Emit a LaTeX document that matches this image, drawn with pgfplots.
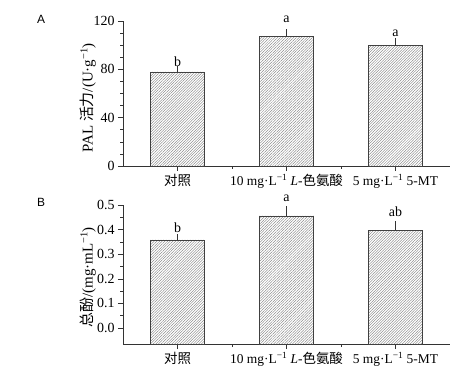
\documentclass[border=0pt]{standalone}
\usepackage{pgfplots}
\pgfplotsset{compat=1.18}
\usetikzlibrary{patterns.meta}
\usepackage{fontspec}
\setmainfont{Liberation Serif}
\newfontfamily\cjk{Noto Sans CJK SC}
\newfontfamily\sansA{Liberation Sans}
\begin{document}
\begin{tikzpicture}
\pgfplotsset{
 panel/.style={
  scale only axis, width=327bp, xmin=-0.5, xmax=2.5,
  axis x line*=bottom, axis y line*=left,
  axis line style={-, black!80, line width=0.6pt},
  tick align=outside, major tick length=5bp, minor tick length=3bp,
  every tick/.style={black!80, line width=0.6pt},
  xtick={0,1,2}, minor xtick={0.5,1.5},
  xticklabels={{\cjk 对照}, {10 mg·L\textsuperscript{\char"2212 1} \textit{L}-{\cjk 色氨酸}}, {5 mg·L\textsuperscript{\char"2212 1} 5-MT}},
  xticklabel style={font=\fontsize{13.5}{16}\selectfont},
  yticklabel style={font=\fontsize{14}{16}\selectfont},
  /pgf/number format/assume math mode=true,
  clip=false, ybar, bar width=0.5,
  anchor=south west,
 },
 barstyle/.style={draw=black!75, line width=0.6pt,
  pattern={Lines[angle=45,distance=1.9pt,line width=0.35pt]}, pattern color=black!55,
  error bars/.cd, y dir=plus, y explicit,
  error bar style={black!80, line width=0.6pt},
  error mark options={black!80, line width=0.6pt, mark size=2.5bp}}
}
% Panel A
\begin{axis}[panel, at={(123bp,208bp)}, height=145bp,
  ymin=0, ymax=120, ytick={0,40,80,120},
  minor ytick={10,20,30,50,60,70,90,100,110},
  every axis y label/.style={at={(axis description cs:-0.107,0.47)}, rotate=90, anchor=center, font=\fontsize{15}{17}\selectfont},
  ylabel={PAL {\cjk 活力}/(U·g\textsuperscript{\char"2212 1})}]
\addplot[barstyle] coordinates {(0,77.9) +- (0,2.5) (1,107.0) +- (0,4.2) (2,99.5) +- (0,4.2)};
\node[font=\fontsize{14}{16}\selectfont] at (axis cs:0,86) {b};
\node[font=\fontsize{14}{16}\selectfont] at (axis cs:1,121.6) {a};
\node[font=\fontsize{14}{16}\selectfont] at (axis cs:2,110) {a};
\end{axis}
% Panel B (bars start at the axis floor, -0.065)
\begin{axis}[panel, at={(123bp,30bp)}, height=139bp,
  ymin=0, ymax=0.565, y filter/.expression={y+0.065},
  ytick={0.065,0.165,0.265,0.365,0.465,0.565},
  yticklabels={0.0,0.1,0.2,0.3,0.4,0.5},
  minor ytick={0.115,0.215,0.315,0.415,0.515},
  every axis y label/.style={at={(axis description cs:-0.107,0.48)}, rotate=90, anchor=center, font=\fontsize{15}{17}\selectfont},
  ylabel={{\cjk 总酚}/(mg·mL\textsuperscript{\char"2212 1})}]
\addplot[barstyle] coordinates {(0,0.358) +- (0,0.012) (1,0.456) +- (0,0.028) (2,0.397) +- (0,0.026)};
\node[font=\fontsize{14}{16}\selectfont] at (axis cs:0,0.474) {b};
\node[font=\fontsize{14}{16}\selectfont] at (axis cs:1,0.592) {a};
\node[font=\fontsize{14}{16}\selectfont] at (axis cs:2,0.537) {ab};
\end{axis}
\node[font=\sansA\fontsize{12}{14}\selectfont] at (41bp,355bp) {A};
\node[font=\sansA\fontsize{12}{14}\selectfont] at (41bp,172bp) {B};
\path (0,0) rectangle (471bp,374bp);
\end{tikzpicture}
\end{document}
